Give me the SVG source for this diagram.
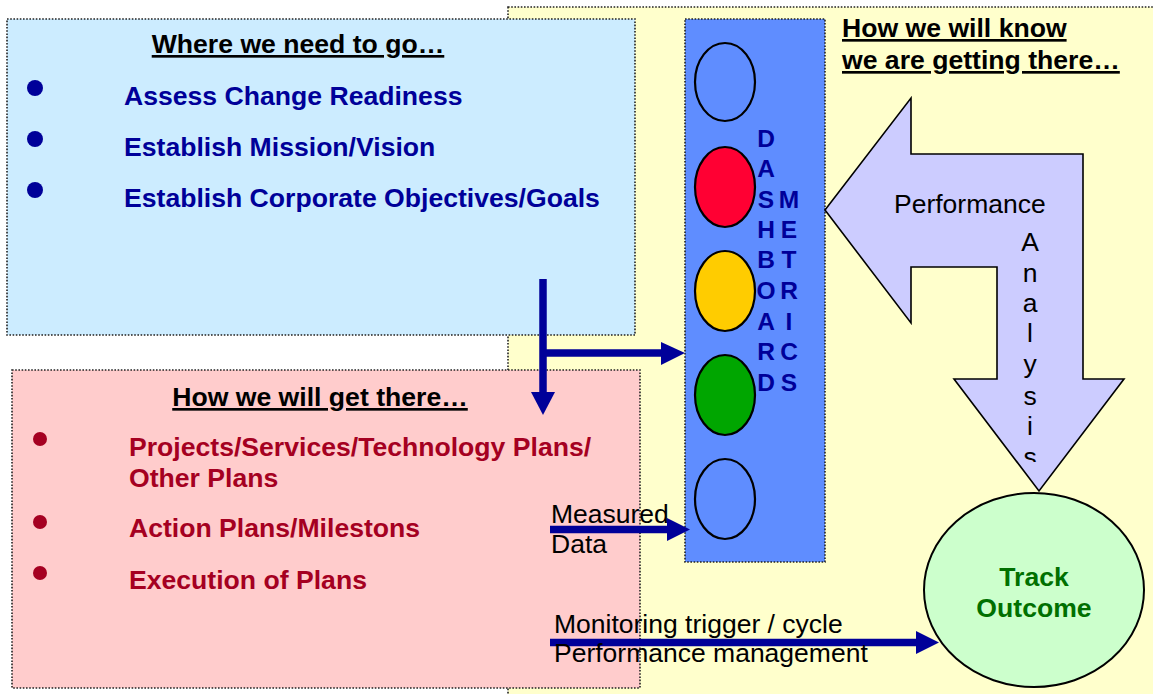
<svg xmlns="http://www.w3.org/2000/svg" width="1153" height="694" viewBox="0 0 1153 694">
<style>
.t{font-family:"Liberation Sans",Arial,sans-serif;font-size:26.5px}
.b{font-weight:bold;font-size:26.6px}
.dot{stroke:#222;stroke-width:1.6;stroke-dasharray:1.6 1.6}
.lamp{stroke:#000;stroke-width:2.2}
.conn{stroke:#000099;stroke-width:7.5;fill:none}
.head{fill:#000099}
.vl{font-family:"Liberation Sans",Arial,sans-serif;font-size:24.5px;font-weight:bold;fill:#000099;text-anchor:middle}
.al{font-family:"Liberation Sans",Arial,sans-serif;font-size:26.5px;fill:#000;text-anchor:middle}
</style>
<defs>
<clipPath id="aclip"><rect x="1000" y="220" width="60" height="242"/></clipPath>
</defs>
<rect width="1153" height="694" fill="#fff"/>
<g id="background">
<rect x="508" y="7" width="700" height="720" fill="#FFFFCC" class="dot"/>
</g>
<g id="where-box">
<rect x="7" y="19" width="628" height="316" fill="#CCECFF" class="dot"/>
<text class="t b" x="298" y="53" text-anchor="middle" text-decoration="underline" fill="#000">Where we need to go…</text>
<circle cx="35" cy="88" r="8" fill="#000099"/>
<circle cx="35" cy="139" r="8" fill="#000099"/>
<circle cx="35" cy="190" r="8" fill="#000099"/>
<text class="t b" x="124" y="105" fill="#000099">Assess Change Readiness</text>
<text class="t b" x="124" y="156" fill="#000099">Establish Mission/Vision</text>
<text class="t b" x="124" y="207" fill="#000099">Establish Corporate Objectives/Goals</text>
</g>
<g id="how-box">
<rect x="12" y="370" width="628" height="318" fill="#FFCCCC" class="dot"/>
<text class="t b" x="320" y="406" text-anchor="middle" text-decoration="underline" fill="#000">How we will get there…</text>
<circle cx="40" cy="439" r="7" fill="#A50021"/>
<circle cx="40" cy="522" r="7" fill="#A50021"/>
<circle cx="40" cy="573" r="7" fill="#A50021"/>
<text class="t b" x="129" y="456" fill="#A50021">Projects/Services/Technology Plans/</text>
<text class="t b" x="129" y="487" fill="#A50021">Other Plans</text>
<text class="t b" x="129" y="537" fill="#A50021">Action Plans/Milestons</text>
<text class="t b" x="129" y="589" fill="#A50021">Execution of Plans</text>
</g>
<g id="know-title">
<text class="t b" x="842" y="37" text-decoration="underline" fill="#000">How we will know</text>
<text class="t b" x="842" y="69" text-decoration="underline" fill="#000">we are getting there…</text>
</g>
<g id="dashboard">
<rect x="685" y="19" width="140" height="543" fill="#5F8DFF" class="dot"/>
<ellipse cx="725" cy="82" rx="30" ry="39" fill="#5F8DFF" class="lamp"/>
<ellipse cx="725" cy="187" rx="30" ry="40" fill="#FF0033" class="lamp"/>
<ellipse cx="725" cy="291" rx="30" ry="40" fill="#FFCC00" class="lamp"/>
<ellipse cx="725" cy="395" rx="30" ry="40" fill="#00A600" class="lamp"/>
<ellipse cx="725" cy="499" rx="30" ry="40" fill="#5F8DFF" class="lamp"/>
<text class="vl" x="766" y="147">D</text>
<text class="vl" x="766" y="177">A</text>
<text class="vl" x="766" y="208">S</text>
<text class="vl" x="766" y="238">H</text>
<text class="vl" x="766" y="268">B</text>
<text class="vl" x="766" y="299">O</text>
<text class="vl" x="766" y="330">A</text>
<text class="vl" x="766" y="360">R</text>
<text class="vl" x="766" y="391">D</text>
<text class="vl" x="789" y="208">M</text>
<text class="vl" x="789" y="238">E</text>
<text class="vl" x="789" y="268">T</text>
<text class="vl" x="789" y="299">R</text>
<text class="vl" x="789" y="330">I</text>
<text class="vl" x="789" y="360">C</text>
<text class="vl" x="789" y="391">S</text>
</g>
<g id="performance-analysis">
<polygon points="825,210 911,98 911,154 1083,154 1083,379 1124,379 1039,491 954,379 997,379 997,267 911,267 911,323" fill="#CCCCFF" stroke="#000" stroke-width="1.6"/>
<text class="t" x="894" y="213" fill="#000">Performance</text>
<g clip-path="url(#aclip)">
<text class="al" x="1030" y="251">A</text>
<text class="al" x="1030" y="282">n</text>
<text class="al" x="1030" y="312">a</text>
<text class="al" x="1030" y="342">l</text>
<text class="al" x="1030" y="373">y</text>
<text class="al" x="1030" y="405">s</text>
<text class="al" x="1030" y="435">i</text>
<text class="al" x="1030" y="466">s</text>
</g>
</g>
<g id="track-outcome">
<ellipse cx="1034" cy="590" rx="110" ry="97" fill="#CCFFCC" stroke="#000" stroke-width="2"/>
<text class="t b" x="1034" y="586" text-anchor="middle" fill="#007000">Track</text>
<text class="t b" x="1034" y="617" text-anchor="middle" fill="#007000">Outcome</text>
</g>
<g id="connectors">
<line class="conn" x1="543" y1="279" x2="543" y2="394"/>
<polygon class="head" points="531,392 555,392 543,415"/>
<line class="conn" x1="543" y1="353" x2="663" y2="353"/>
<polygon class="head" points="661,342 661,365 685,353"/>
<line class="conn" x1="550" y1="529.5" x2="669" y2="529.5"/>
<polygon class="head" points="667,518 667,541 690,529.5"/>
<line class="conn" x1="550" y1="642.5" x2="918" y2="642.5"/>
<polygon class="head" points="916,631 916,654 939,642.5"/>
</g>
<g id="labels">
<text class="t" x="551" y="523" fill="#000">Measured</text>
<text class="t" x="551" y="553" fill="#000">Data</text>
<text class="t" x="554" y="633" fill="#000">Monitoring trigger / cycle</text>
<text class="t" x="554" y="662" fill="#000">Performance management</text>
</g>
</svg>
